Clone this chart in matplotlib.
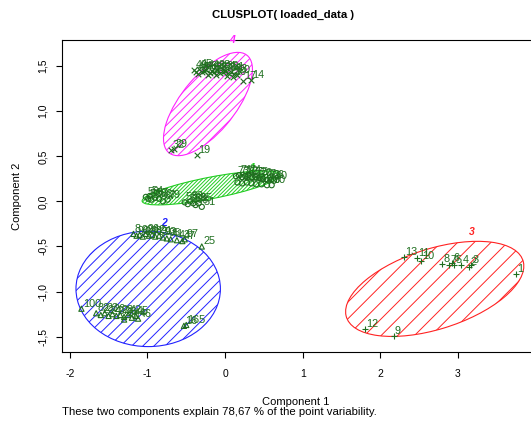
import matplotlib
matplotlib.use("Agg")
import matplotlib.pyplot as plt
from matplotlib.patches import Ellipse
from matplotlib.ticker import FuncFormatter

plt.rcParams['font.family'] = ['Liberation Sans', 'DejaVu Sans']
plt.rcParams['hatch.linewidth'] = 0.7

# cluster ellipses: center, full width/height, angle, colour, hatch
clus_names = ["1", "2", "3", "4"]
clus_cx = [-0.18, -0.99, 2.70, -0.22]
clus_cy = [0.15, -0.97, -0.97, 1.08]
clus_w = [1.80, 1.86, 2.36, 1.48]
clus_h = [0.24, 1.28, 0.90, 0.66]
clus_ang = [9.4, 0.0, 14.6, 45.0]
clus_col = ["#22cc22", "#2222ff", "#ff2222", "#ff22ff"]
clus_hatch = ["/////////", "///", "//", "////"]
clus_lab_x = [0.35, -0.79, 3.18, 0.09]
clus_lab_y = [0.32, -0.30, -0.40, 1.73]

# cluster 1 (circles)
c1_x = [-1.02, -0.99, -0.97, -0.95, -0.90, -0.85, -0.80, -0.74,
        -0.52, -0.48, -0.45, -0.41, -0.38, -0.34, -0.30,
        0.14, 0.18, 0.22, 0.26, 0.30, 0.34, 0.39, 0.44, 0.49, 0.54, 0.59, 0.63,
        0.16, 0.22, 0.28, 0.34, 0.40, 0.47, 0.54, 0.60]
c1_y = [0.05, 0.03, 0.06, 0.02, 0.04, 0.03, 0.00, 0.02,
        -0.01, -0.03, 0.00, -0.02, -0.04, -0.02, -0.06,
        0.28, 0.29, 0.27, 0.28, 0.29, 0.27, 0.27, 0.26, 0.25, 0.24, 0.24, 0.23,
        0.21, 0.20, 0.21, 0.20, 0.19, 0.19, 0.18, 0.18]
c1_lab = ["58", "56", "54", "59", "57", "86", "67", "79",
          "53", "55", "63", "69", "68", "65", "51",
          "73", "71", "78", "72", "74", "76", "75", "70", "77", "62", "66", "60",
          "81", "83", "84", "85", "88", "87", "89", "80"]

# cluster 2 (triangles)
c2_x = [-1.18, -1.14, -1.10, -1.06, -1.02, -0.98, -0.94, -0.90, -0.85, -0.80,
        -0.75, -0.70, -0.62, -0.55, -0.52, -0.30,
        -1.85, -1.66, -1.60, -1.55, -1.50, -1.45, -1.40, -1.35, -1.30, -1.25,
        -1.20, -1.15, -1.12, -1.30, -0.53, -0.50]
c2_y = [-0.36, -0.38, -0.37, -0.39, -0.36, -0.38, -0.37, -0.39, -0.38, -0.40,
        -0.41, -0.42, -0.43, -0.44, -0.42, -0.50,
        -1.19, -1.24, -1.26, -1.24, -1.27, -1.25, -1.27, -1.26, -1.28, -1.26,
        -1.29, -1.27, -1.30, -1.31, -1.38, -1.37]
c2_lab = ["8", "90", "92", "94", "96", "98", "12", "13", "91", "93",
          "95", "41", "43", "47", "97", "25",
          "100", "82", "22", "23", "24", "26", "27", "28", "40", "42",
          "44", "45", "46", "48", "16", "165"]

# cluster 3 (plus)
c3_x = [3.75, 3.14, 3.17, 3.04, 2.95, 2.92, 2.88, 2.79, 2.17, 2.52, 2.47, 1.80, 2.30]
c3_y = [-0.81, -0.73, -0.70, -0.71, -0.71, -0.68, -0.70, -0.69, -1.49, -0.66, -0.63, -1.41, -0.62]
c3_lab = ["1", "2", "3", "4", "5", "6", "7", "8", "9", "10", "11", "12", "13"]

# cluster 4 (crosses)
c4_x = [-0.40, -0.37, -0.33, -0.30, -0.27, -0.24, -0.20, -0.17, -0.14, -0.10,
        -0.07, -0.03, 0.00, 0.04, 0.08, 0.12, 0.16, -0.35, -0.22, -0.12,
        0.02, 0.10, 0.23, 0.33, -0.69, -0.66, -0.36]
c4_y = [1.46, 1.44, 1.47, 1.43, 1.45, 1.46, 1.42, 1.45, 1.43, 1.46,
        1.42, 1.44, 1.45, 1.42, 1.43, 1.41, 1.40, 1.41, 1.40, 1.40,
        1.39, 1.38, 1.34, 1.35, 0.57, 0.58, 0.52]
c4_lab = ["49", "48", "45", "47", "46", "44", "42", "43", "39", "38",
          "37", "36", "35", "34", "31", "33", "20", "18", "21", "30",
          "15", "10", "17", "14", "32", "29", "19"]

fig = plt.figure(figsize=(5.31, 4.21), dpi=100)
ax = fig.add_axes([62 / 531, 1 - 352 / 421, 469 / 531, 312 / 421])

for i in range(len(clus_names)):
    e = Ellipse((clus_cx[i], clus_cy[i]), clus_w[i], clus_h[i], angle=clus_ang[i],
                fill=False, edgecolor=clus_col[i], hatch=clus_hatch[i], linewidth=0.8)
    ax.add_patch(e)
    ax.text(clus_lab_x[i], clus_lab_y[i], clus_names[i], color=clus_col[i],
            fontsize=7.5, fontweight='bold', style='italic', ha='center', va='bottom')

pt_col = "#1e6e1e"
groups = [(c1_x, c1_y, c1_lab, 'o'), (c2_x, c2_y, c2_lab, '^'),
          (c3_x, c3_y, c3_lab, '+'), (c4_x, c4_y, c4_lab, 'x')]
for xs, ys, labs, mk in groups:
    if mk in ('+', 'x'):
        ax.scatter(xs, ys, marker=mk, s=16, color=pt_col, linewidths=0.8, zorder=3)
    else:
        ax.scatter(xs, ys, marker=mk, s=14, facecolors='none', edgecolors=pt_col,
                   linewidths=0.8, zorder=3)
    for x, y, lab in zip(xs, ys, labs):
        ax.annotate(lab, (x, y), xytext=(1, 0), textcoords='offset points',
                    fontsize=7.8, color=pt_col, ha='left', va='bottom', zorder=4)

ax.set_xlim(-2.1, 3.94)
ax.set_ylim(-1.67, 1.79)
ax.set_xticks([-2, -1, 0, 1, 2, 3])
ax.set_yticks([-1.5, -1.0, -0.5, 0.0, 0.5, 1.0, 1.5])
ax.yaxis.set_major_formatter(FuncFormatter(lambda v, p: ("%.1f" % v).replace(".", ",")))
ax.xaxis.set_major_formatter(FuncFormatter(lambda v, p: "%d" % v))
ax.tick_params(direction='out', length=4, width=0.8, labelsize=7.5)
ax.tick_params(axis='x', pad=8)
ax.tick_params(axis='y', pad=6)
for lab in ax.get_yticklabels():
    lab.set_rotation(90)
    lab.set_va('center')
ax.spines['right'].set_visible(False)
for s in ['left', 'top', 'bottom']:
    ax.spines[s].set_linewidth(0.8)

ax.set_xlabel("Component 1", fontsize=8)
ax.set_ylabel("Component 2", fontsize=8)
ax.xaxis.set_label_coords((296 - 62) / 469, -(402 - 352) / 312)
ax.yaxis.set_label_coords(-(62 - 17) / 469, 0.5)
ax.xaxis.label.set_va('center')
ax.yaxis.label.set_va('center')

fig.text(283 / 531, 1 - 15 / 421, "CLUSPLOT( loaded_data )", fontsize=8.2,
         fontweight='bold', ha='center', va='center')
fig.text(62 / 531, 1 - 412 / 421,
         "These two components explain 78,67 % of the point variability.",
         fontsize=8.2, ha='left', va='center')

fig.savefig("out.png", dpi=100)
